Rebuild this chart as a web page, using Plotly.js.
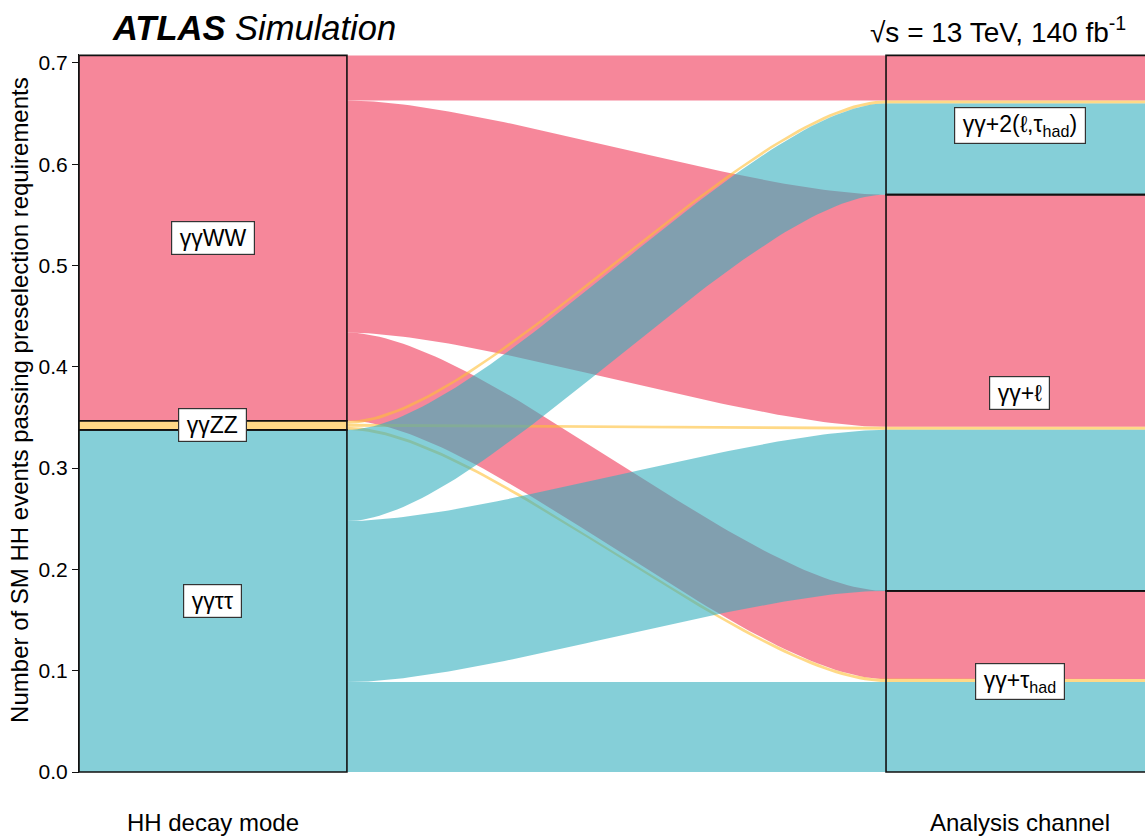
<!DOCTYPE html>
<html><head><meta charset="utf-8">
<script src="https://cdn.plot.ly/plotly-3.0.1.min.js"></script>
<style>body{margin:0;background:#fff}</style>
</head><body><div id="chart" style="width:1145px;height:839px"></div>
<script>
// Decay modes (left axis), bottom to top
const decayModes = ["γγττ", "γγZZ", "γγWW"];
// Analysis channels (right axis), bottom to top
const channels = ["γγ+τ<sub>had</sub>", "γγ+ℓ", "γγ+2(ℓ,τ<sub>had</sub>)"];
// Flow values: events from each decay mode into [τhad, ℓ, 2(ℓ,τhad)]
const flowTauTau = [0.0888, 0.159, 0.090];
const flowZZ     = [0.003, 0.003, 0.003];
const flowWW     = [0.087, 0.2292, 0.0445];
const axisLabels = ["HH decay mode", "Analysis channel"];
const yTickVals  = [0, 0.1, 0.2, 0.3, 0.4, 0.5, 0.6, 0.7];

const flows = [flowTauTau, flowZZ, flowWW];
const fillColors = ["rgba(52,175,190,0.6)", "rgba(255,192,55,0.6)", "rgba(240,55,87,0.6)"];
const drawOrder = [2, 1, 0]; // WW, ZZ, ττ

const hw = 0.166;
const nD = decayModes.length, nC = channels.length;

// left stacked positions
const leftPos = [];
let acc = 0;
for (let i = 0; i < nD; i++) {
  leftPos.push([]);
  for (let j = 0; j < nC; j++) { leftPos[i].push([acc, acc + flows[i][j]]); acc += flows[i][j]; }
}
// right stacked positions
const rightPos = flows.map(() => []);
acc = 0;
for (let j = 0; j < nC; j++) {
  for (let i = 0; i < nD; i++) { rightPos[i][j] = [acc, acc + flows[i][j]]; acc += flows[i][j]; }
}
// strata bounds
const leftStrata = [], rightStrata = [];
acc = 0;
for (let i = 0; i < nD; i++) { const s = flows[i].reduce((a,b)=>a+b,0); leftStrata.push([acc, acc+s]); acc += s; }
acc = 0;
for (let j = 0; j < nC; j++) { let s = 0; for (let i = 0; i < nD; i++) s += flows[i][j]; rightStrata.push([acc, acc+s]); acc += s; }

const k = 0.25;
function bx(s) { return 3*(1-s)*(1-s)*s*k + 3*(1-s)*s*s*(1-k) + s*s*s; }
function by(s) { return 3*(1-s)*s*s + s*s*s; }

const traces = [];
const N = 80;
drawOrder.forEach(i => {
  // left stratum part of this decay mode as one block (no seams between its alluvia)
  const [s0, s1] = leftStrata[i];
  traces.push({ x: [1 - hw, 1 + hw, 1 + hw, 1 - hw, 1 - hw], y: [s0, s0, s1, s1, s0], type: "scatter", mode: "lines",
    fill: "toself", fillcolor: fillColors[i], line: { width: 0 }, hoverinfo: "skip", showlegend: false });
  for (let j = 0; j < nC; j++) {
    const [l0, l1] = leftPos[i][j], [r0, r1] = rightPos[i][j];
    const x0 = 1 + hw, x1 = 2 - hw;
    const xs = [], ys = [];
    for (let n = 0; n <= N; n++) { const s = n / N; xs.push(x0 + (x1 - x0) * bx(s)); ys.push(l0 + (r0 - l0) * by(s)); }
    xs.push(2 + hw); ys.push(r0);
    xs.push(2 + hw); ys.push(r1);
    for (let n = N; n >= 0; n--) { const s = n / N; xs.push(x0 + (x1 - x0) * bx(s)); ys.push(l1 + (r1 - l1) * by(s)); }
    traces.push({ x: xs, y: ys, type: "scatter", mode: "lines", fill: "toself",
      fillcolor: fillColors[i], line: { width: 0 }, hoverinfo: "skip", showlegend: false });
  }
});

const shapes = [];
leftStrata.forEach(b => shapes.push({ type: "rect", xref: "x", yref: "y", x0: 1 - hw, x1: 1 + hw, y0: b[0], y1: b[1], line: { color: "#111", width: 1.6 }, fillcolor: "rgba(0,0,0,0)", layer: "above" }));
rightStrata.forEach(b => shapes.push({ type: "rect", xref: "x", yref: "y", x0: 2 - hw, x1: 2 + hw, y0: b[0], y1: b[1], line: { color: "#111", width: 1.6 }, fillcolor: "rgba(0,0,0,0)", layer: "above" }));

const FONT = "Liberation Sans, Arial, Helvetica, sans-serif";
const labelFont = { family: FONT, size: 23, color: "#000" };
const pad = "\u2009";
const annotations = [];
decayModes.forEach((d, i) => annotations.push({ x: 1, y: (leftStrata[i][0] + leftStrata[i][1]) / 2, xref: "x", yref: "y", text: pad + d + pad, showarrow: false, font: labelFont, bgcolor: "#fff", bordercolor: "#333", borderwidth: 1.2, borderpad: 3 }));
channels.forEach((c, j) => annotations.push({ x: 2, y: (rightStrata[j][0] + rightStrata[j][1]) / 2, xref: "x", yref: "y", text: pad + c + pad, showarrow: false, font: labelFont, bgcolor: "#fff", bordercolor: "#333", borderwidth: 1.2, borderpad: 3 }));

annotations.push({ xref: "paper", yref: "paper", x: 0.029, y: 1.036, xanchor: "left", yanchor: "middle", showarrow: false,
  text: "<b><i>ATLAS</i></b> <i>Simulation</i>", font: { family: FONT, size: 34.5, color: "#000" } });
annotations.push({ xref: "paper", yref: "paper", x: 0.984, y: 1.034, xanchor: "right", yanchor: "middle", showarrow: false,
  text: "√s = 13 TeV, 140 fb<sup>-1</sup>", font: { family: FONT, size: 28, color: "#000" } });
annotations.push({ xref: "paper", yref: "paper", x: -0.0553, y: 0.519, xanchor: "center", yanchor: "middle", showarrow: false, textangle: -90,
  text: "Number of SM HH events passing preselection requirements", font: { family: FONT, size: 24, color: "#000" } });

const layout = {
  width: 1145, height: 839,
  margin: { l: 79, r: 0, t: 54, b: 66 },
  paper_bgcolor: "#fff", plot_bgcolor: "#fff",
  showlegend: false,
  xaxis: { range: [0.834, 2.1549], tickvals: [1, 2], ticktext: axisLabels, showgrid: false, zeroline: false,
    showline: false, ticks: "", ticklabelstandoff: 33,
    tickfont: { family: FONT, size: 24, color: "#000" } },
  yaxis: { range: [-0.000987, 0.70888], tickvals: yTickVals, tickformat: ".1f", showgrid: false, zeroline: false,
    showline: true, linecolor: "#111", linewidth: 1, ticks: "outside", ticklen: 6, tickcolor: "#111", tickwidth: 1,
    tickfont: { family: FONT, size: 21, color: "#000" } },
  shapes: shapes,
  annotations: annotations
};
Plotly.newPlot("chart", traces, layout, { displayModeBar: false, staticPlot: true });
</script></body></html>
